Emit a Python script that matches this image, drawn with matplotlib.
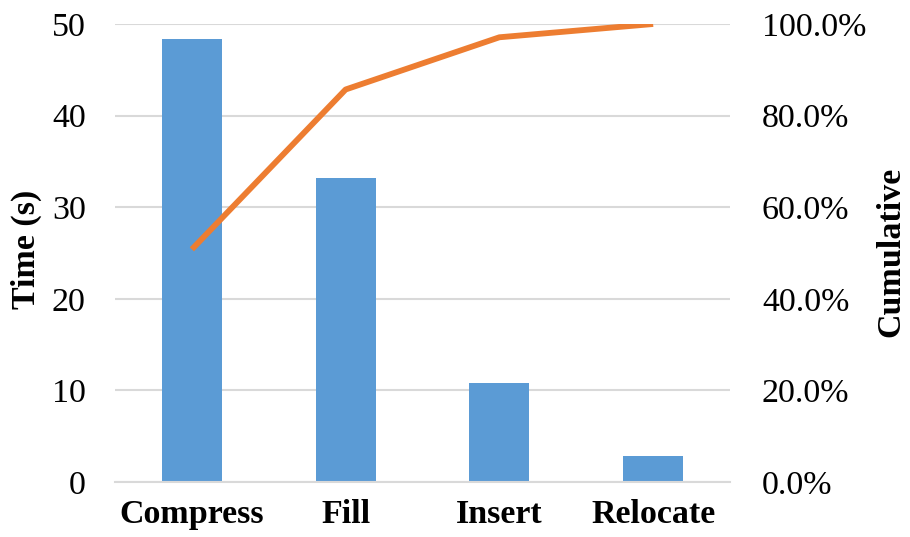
import matplotlib.pyplot as plt
import numpy as np

plt.rcParams['font.family'] = ['Liberation Serif', 'DejaVu Serif']

# time spent per operation (s)
operations = ["Compress", "Fill", "Insert", "Relocate"]
times = [48.4, 33.2, 10.8, 2.8]
# cumulative share of total time (%)
cumulative = [50.8, 85.7, 97.1, 100.0]

FS = 24.5

fig = plt.figure(figsize=(9.1, 5.37), dpi=100)
ax = fig.add_axes([115 / 910, 1 - 482 / 537, 615 / 910, 458 / 537])
x = np.arange(len(operations))

ax.bar(x, times, width=0.39, color="#5B9BD5", zorder=2)
ax.set_xlim(-0.5, len(operations) - 0.5)
ax.set_ylim(0, 50)
ax.set_yticks(range(0, 51, 10))
ax.grid(axis="y", color="#D9D9D9", linewidth=1.5, zorder=0)
for s in ["top", "right", "left"]:
    ax.spines[s].set_visible(False)
ax.spines["bottom"].set_color("#D9D9D9")
ax.spines["bottom"].set_linewidth(1.5)
ax.tick_params(length=0, labelsize=FS)
ax.tick_params(axis="y", pad=21)
ax.set_xticks(x)
ax.set_xticklabels(operations, fontweight="bold", fontsize=FS)
ax.tick_params(axis="x", pad=12)
ax.set_ylabel("Time (s)", fontweight="bold", fontsize=FS)
ax.yaxis.set_label_coords(-0.119, 0.507)

ax2 = ax.twinx()
ax2.plot(x, cumulative, color="#ED7D31", linewidth=4.2, solid_capstyle="butt", zorder=3)
ax2.set_ylim(0, 100)
ax2.set_yticks(range(0, 101, 20))
ax2.set_yticklabels([f"{v:.1f}%" for v in range(0, 101, 20)])
for s in ax2.spines.values():
    s.set_visible(False)
ax2.tick_params(length=0, labelsize=FS, pad=23)
ax2.set_ylabel("Cumulative", fontweight="bold", fontsize=FS)
ax2.yaxis.set_label_coords(1.237, 0.502)

fig.savefig("out.png", dpi=100)
